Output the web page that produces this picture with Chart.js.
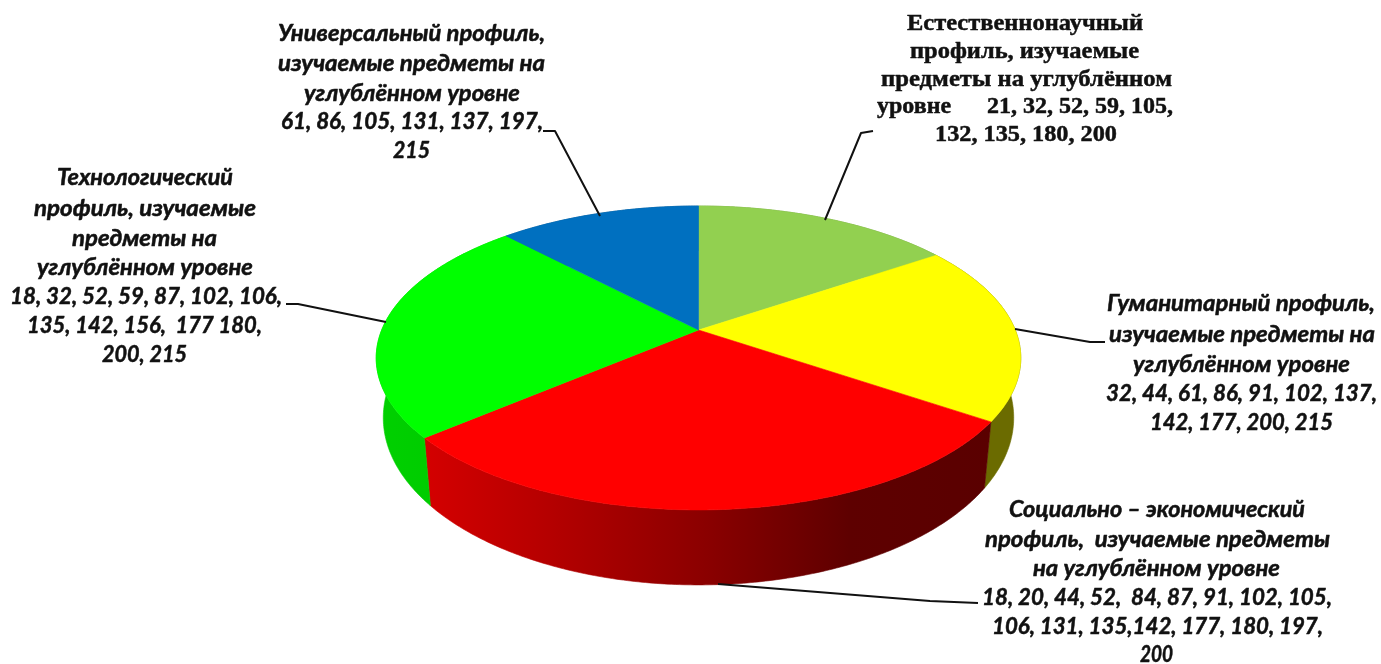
<!DOCTYPE html>
<html>
<head>
<meta charset="utf-8">
<title>Профили</title>
<script src="https://cdn.jsdelivr.net/npm/chart.js@4/dist/chart.umd.min.js"></script>
<style>
    html, body { margin: 0; padding: 0; background: #fff; overflow: hidden; }
    canvas { display: block; }
</style>
</head>
<body>
<canvas id="pie3d" width="1381" height="664"></canvas>
<script>
var categories = ["Естественнонаучный", "Гуманитарный", "Социально – экономический", "Технологический", "Универсальный"];
var schoolCounts = [9, 11, 17, 14, 7];
var topColors = ["#92d050", "#ffff00", "#ff0000", "#00ff00", "#0070c0"];

var labelTexts = [
    ["Естественнонаучный", "профиль, изучаемые", "предметы на углублённом", "уровне      21, 32, 52, 59, 105,", "132, 135, 180, 200"],
    ["Гуманитарный профиль,", "изучаемые предметы на", "углублённом уровне", "32, 44, 61, 86, 91, 102, 137,", "142, 177, 200, 215"],
    ["Социально – экономический", "профиль,  изучаемые предметы", "на углублённом уровне", "18, 20, 44, 52,  84, 87, 91, 102, 105,", "106, 131, 135,142, 177, 180, 197,", "200"],
    ["Технологический", "профиль, изучаемые", "предметы на", "углублённом уровне", "18, 32, 52, 59, 87, 102, 106,", "135, 142, 156,  177 180,", "200, 215"],
    ["Универсальный профиль,", "изучаемые предметы на", "углублённом уровне", "61, 86, 105, 131, 137, 197,", "215"]
];

// where each label line sits (left, right, middle y) and how its leader runs
var labelBoxes = [
    {
        font: "bold 24px 'Liberation Serif'",
        lines: [[907, 1143, 24], [910, 1139, 52], [881, 1172, 80], [877, 1173, 107], [935, 1117, 135]],
        leader: [[873, 131], [861, 133], [825, 220]]
    },
    {
        font: "italic bold 22px Lato, 'Open Sans'",
        lines: [[1107, 1375, 304], [1109, 1375, 335], [1133, 1350, 365], [1106, 1377, 394], [1150, 1333, 423]],
        leader: [[1105, 342], [1090, 342], [1015, 329]]
    },
    {
        font: "italic bold 22px Lato, 'Open Sans'",
        lines: [[1009, 1305, 510], [985, 1330, 540], [1033, 1280, 569], [982, 1332, 598], [992, 1323, 627], [1140, 1173, 655]],
        leader: [[978, 603], [930, 601], [718, 584]]
    },
    {
        font: "italic bold 22px Lato, 'Open Sans'",
        lines: [[57, 233, 178], [34, 256, 209], [72, 217, 239], [37, 253, 268], [10, 282, 297], [27, 262, 326], [102, 187, 355]],
        leader: [[286, 304], [298, 304], [386, 322]]
    },
    {
        font: "italic bold 22px Lato, 'Open Sans'",
        lines: [[278, 545, 34], [278, 545, 64], [304, 520, 94], [281, 543, 122], [393, 430, 151]],
        leader: [[543, 131], [555, 131], [600, 216]]
    }
];

var wallShades = [
    [[0, "#6f9e3c"], [1, "#6f9e3c"]],
    [[0, "#6b6b00"], [1, "#6b6b00"]],
    [[0, "#d40000"], [0.2, "#b80000"], [0.5, "#8a0000"], [0.75, "#5e0000"], [1, "#5a0000"]],
    [[0, "#00d000"], [1, "#00c800"]],
    [[0, "#004f88"], [1, "#004f88"]]
];

// perspective of the disc: the apex is above the middle of the ellipse
var apexX = 698.5, apexY = 330, radius = 316.8;
var persp = -0.184, yGain = 86.1;
var wallScaleX = 0.978, wallScaleY = 1.1, wallBase = 387;

function project(angle) {
    var u = Math.cos(angle), v = Math.sin(angle);
    var w = 1 + persp * v;
    return { x: apexX + radius * u / w, y: (yGain * v + apexY) / w };
}

function projectBottom(angle) {
    var p = project(angle);
    return { x: apexX + (p.x - apexX) * wallScaleX, y: wallBase + (p.y - apexY) * wallScaleY };
}

function edgePoints(fn, start, end) {
    var pts = [];
    var steps = Math.max(2, Math.ceil((end - start) / 0.01));
    for (var i = 0; i <= steps; i++) {
        pts.push(fn(start + (end - start) * i / steps));
    }
    return pts;
}

function fillPolygon(ctx, pts, fill) {
    ctx.beginPath();
    ctx.moveTo(pts[0].x, pts[0].y);
    for (var i = 1; i < pts.length; i++) ctx.lineTo(pts[i].x, pts[i].y);
    ctx.closePath();
    ctx.fillStyle = fill;
    ctx.strokeStyle = fill;
    ctx.lineWidth = 0.6;
    ctx.fill();
    ctx.stroke();
}

// stretch a line sideways so that it fills the span it has in the picture
function drawLine(ctx, text, span) {
    var scaleX = (span[1] - span[0]) / ctx.measureText(text).width;
    ctx.save();
    ctx.translate((span[0] + span[1]) / 2, span[2]);
    ctx.scale(scaleX, 1);
    ctx.lineWidth = 0.5;
    ctx.strokeText(text, 0, 0);
    ctx.fillText(text, 0, 0);
    ctx.restore();
}

var disc3d = {
    id: "disc3d",
    beforeDatasetDraw: function (chart) {
        var ctx = chart.ctx;
        var arcs = chart.getDatasetMeta(0).data;
        ctx.save();
        arcs.forEach(function (arc, i) {
            var top = edgePoints(project, arc.startAngle, arc.endAngle);
            var bottom = edgePoints(projectBottom, arc.startAngle, arc.endAngle).reverse();
            var xs = top.concat(bottom).map(function (p) { return p.x; });
            var grad = ctx.createLinearGradient(Math.min.apply(null, xs), 0, Math.max.apply(null, xs), 0);
            wallShades[i].forEach(function (s) { grad.addColorStop(s[0], s[1]); });
            fillPolygon(ctx, top.concat(bottom), grad);
        });
        arcs.forEach(function (arc, i) {
            var rim = edgePoints(project, arc.startAngle, arc.endAngle);
            fillPolygon(ctx, [{ x: apexX, y: apexY }].concat(rim), topColors[i]);
        });
        ctx.restore();
        return false;
    },
    afterDraw: function (chart) {
        var ctx = chart.ctx;
        ctx.save();
        ctx.strokeStyle = "#111";
        ctx.lineJoin = "round";
        labelBoxes.forEach(function (box, i) {
            ctx.lineWidth = 2;
            ctx.beginPath();
            box.leader.forEach(function (p, k) {
                if (k === 0) ctx.moveTo(p[0], p[1]);
                else ctx.lineTo(p[0], p[1]);
            });
            ctx.stroke();

            ctx.font = box.font;
            ctx.fillStyle = "#111";
            ctx.textAlign = "center";
            ctx.textBaseline = "middle";
            labelTexts[i].forEach(function (line, k) {
                drawLine(ctx, line, box.lines[k]);
            });
        });
        ctx.restore();
    }
};

new Chart(document.getElementById("pie3d"), {
    type: "pie",
    data: {
        labels: categories,
        datasets: [{ data: schoolCounts, backgroundColor: topColors, borderWidth: 0 }]
    },
    options: {
        responsive: false,
        animation: false,
        devicePixelRatio: 1,
        plugins: {
            legend: { display: false },
            tooltip: { enabled: false }
        }
    },
    plugins: [disc3d]
});
</script>
</body>
</html>
